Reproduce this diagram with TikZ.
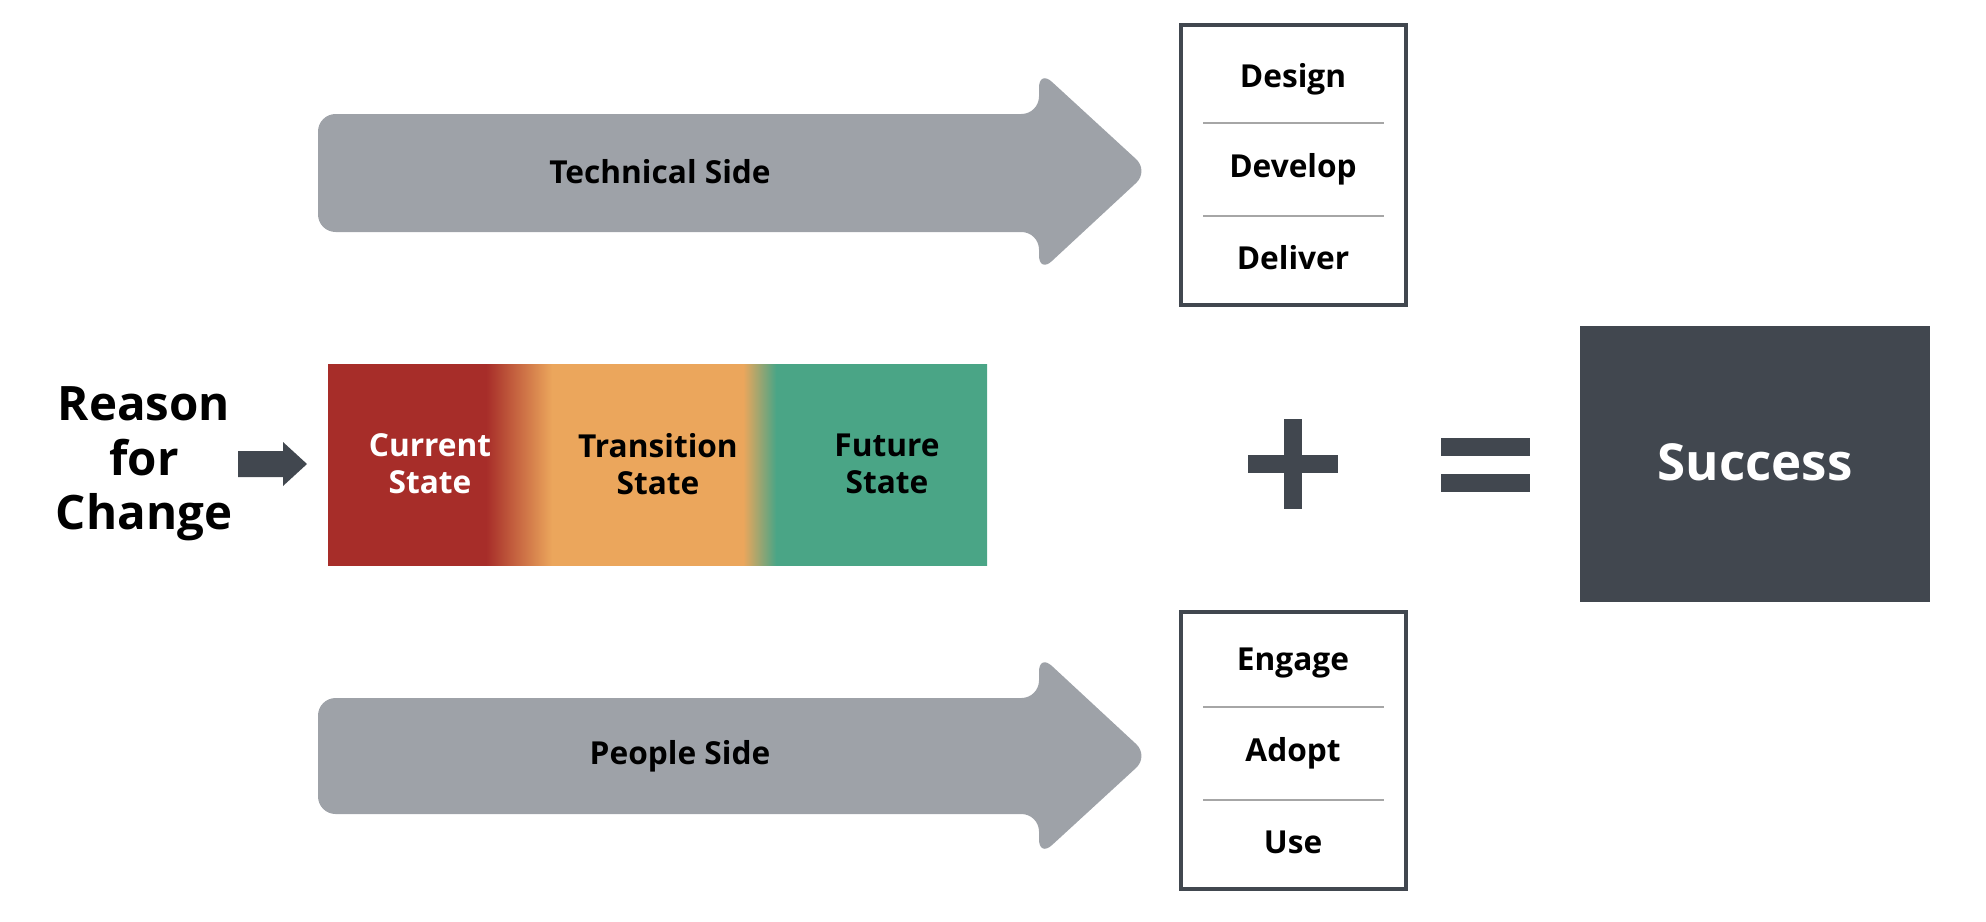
\documentclass[tikz,border=0pt]{standalone}
\usepackage{fontspec}
\setmainfont{Open Sans}
\definecolor{arrowgray}{HTML}{9EA2A8}
\definecolor{darkslate}{HTML}{41474F}
\definecolor{statered}{HTML}{A72D29}
\definecolor{stateorange}{HTML}{EBA65C}
\definecolor{stategreen}{HTML}{4AA586}
\pgfdeclarehorizontalshading{stateshade}{100bp}{
  color(0bp)=(statered); color(37bp)=(statered); color(42bp)=(stateorange);
  color(56.5bp)=(stateorange); color(59bp)=(stategreen); color(100bp)=(stategreen)}
\tikzset{
  bigarrow/.style={fill=arrowgray, rounded corners=5pt},
  stepbox/.style={draw=darkslate, line width=1.2pt, fill=white},
  steptext/.style={font=\fontsize{9}{11}\selectfont\bfseries, text=black},
  divider/.style={draw=gray!70, line width=0.6pt},
  statetext/.style={font=\fontsize{9}{10.5}\selectfont\bfseries, align=center},
  symbolbar/.style={fill=darkslate}
}
\begin{document}
\begin{tikzpicture}[x=0.01cm, y=-0.01cm]
    \useasboundingbox (0,0) rectangle (1986,921);

    % Technical side arrow
    \fill[bigarrow] (318,114) -- (1039,114) -- (1039,70) -- (1149,171) -- (1039,273) -- (1039,232) -- (318,232) -- cycle;
    \node[steptext] (tech) at (660,172) {Technical Side};

    % Technical steps
    \draw[stepbox] (1181,25) rectangle (1406,305);
    \draw[divider] (1203,123) -- (1384,123);
    \draw[divider] (1203,216) -- (1384,216);
    \node[steptext] (design) at (1293,79) {Design};
    \node[steptext] (develop) at (1293,169) {Develop};
    \node[steptext] (deliver) at (1293,258) {Deliver};

    % People side arrow
    \fill[bigarrow] (318,698) -- (1039,698) -- (1039,654) -- (1149,756) -- (1039,857) -- (1039,814) -- (318,814) -- cycle;
    \node[steptext] (people) at (680,756) {People Side};

    % People steps
    \draw[stepbox] (1181,612) rectangle (1406,889);
    \draw[divider] (1203,707) -- (1384,707);
    \draw[divider] (1203,800) -- (1384,800);
    \node[steptext] (engage) at (1293,663) {Engage};
    \node[steptext] (adopt) at (1293,753) {Adopt};
    \node[steptext] (use) at (1293,842) {Use};

    % Reason for change
    \node[font=\fontsize{13.5}{15.5}\selectfont\bfseries, align=center] (reason) at (144,464) {Reason\\for\\Change};
    \fill[darkslate] (238,451) -- (283,451) -- (283,442) -- (307,464) -- (283,486) -- (283,477) -- (238,477) -- cycle;

    % States
    \shade[shading=stateshade] (328,364) rectangle (987,565);
    \node[statetext, text=white] (current) at (430,464) {Current\\State};
    \node[statetext] (transition) at (658,464) {Transition\\State};
    \node[statetext] (future) at (887,464) {Future\\State};

    % Plus and equals
    \fill[symbolbar] (1248,455) rectangle (1338,473);
    \fill[symbolbar] (1284,419) rectangle (1302,509);
    \fill[symbolbar] (1441,438) rectangle (1530,456);
    \fill[symbolbar] (1441,474) rectangle (1530,492);

    % Success
    \fill[darkslate] (1580,326) rectangle (1930,602);
    \node[font=\fontsize{14.5}{17}\selectfont\bfseries, text=white] (success) at (1755,462) {Success};
\end{tikzpicture}
\end{document}
